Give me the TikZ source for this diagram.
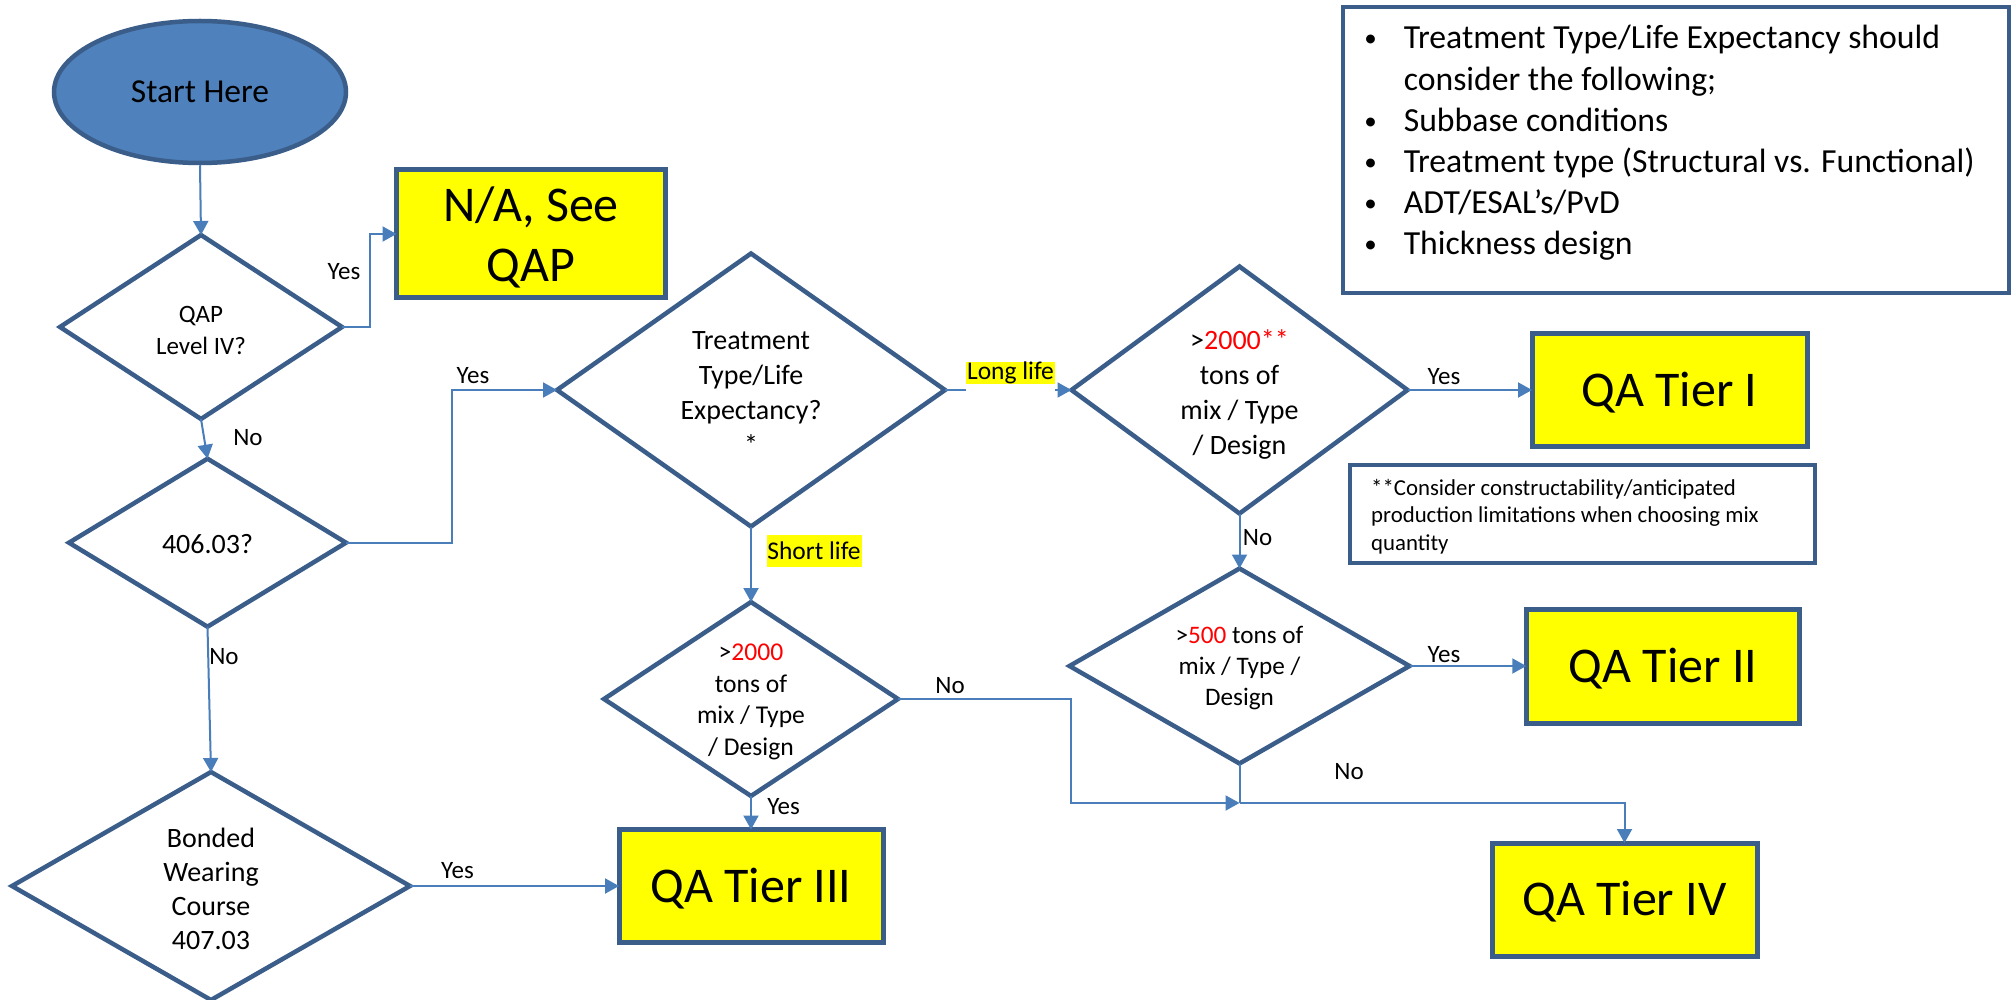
\documentclass[tikz,border=0pt]{standalone}
\usepackage{fontspec}
\setmainfont{Carlito}
\usetikzlibrary{shapes.geometric,arrows.meta}
\definecolor{shapeblue}{RGB}{58,93,138}
\definecolor{connblue}{RGB}{74,126,187}
\definecolor{startfill}{RGB}{79,129,189}
\definecolor{hiyellow}{RGB}{255,255,0}
\begin{document}
\begin{tikzpicture}[x=1pt,y=-1pt,
  dia/.style={diamond, draw=shapeblue, line width=4.5pt, fill=white, inner sep=0pt, outer sep=0pt},
  tier/.style={rectangle, draw=shapeblue, line width=5pt, fill=hiyellow, inner sep=0pt, outer sep=0pt},
  notebox/.style={rectangle, draw=shapeblue, line width=4pt, fill=white, inner sep=0pt},
  conn/.style={draw=connblue, line width=2pt},
  arr/.style={conn, -{Triangle[length=14pt,width=15pt]}},
  dtext/.style={align=center, font=\fontsize{28}{35}\selectfont, inner sep=0pt},
  bigtext/.style={align=center, font=\fontsize{50}{60}\selectfont, inner sep=0pt},
  lab/.style={font=\fontsize{25}{30}\selectfont, inner sep=0pt},
  hl/.style={fill=hiyellow, inner sep=0pt, font=\fontsize{25.5}{30}\selectfont},
  bul/.style={font=\fontsize{25}{41}\selectfont, inner sep=0pt, anchor=base},
  bultext/.style={font=\fontsize{33.7}{41}\selectfont, inner sep=0pt, anchor=base west},
  foot/.style={font=\fontsize{22.8}{27.5}\selectfont, inner sep=0pt, anchor=base west},
]
\fill[white] (0,0) rectangle (2013,1000);
\useasboundingbox (0,0) rectangle (2013,1000);

% ---- shapes ----
\node[ellipse, draw=shapeblue, line width=4.5pt, fill=startfill, minimum width=292pt, minimum height=142pt, inner sep=0pt, font=\fontsize{33.5}{40}\selectfont] (start) at (200,92) {Start Here};

\node[dia, minimum width=282pt, minimum height=184pt] (qap) at (201,327) {};
\node[dtext, font=\fontsize{25}{32}\selectfont] (qapt) at (201,330) {QAP\\Level IV?};

\node[tier, minimum width=269pt, minimum height=128pt] (na) at (531,234) {};
\node[bigtext] (nat) at (531,237) {N/A, See\\QAP};

\node[dia, minimum width=277pt, minimum height=168pt] (d406) at (207.5,542.7) {};
\node[dtext] (d406t) at (207.5,544) {406.03?};

\node[dia, minimum width=398pt, minimum height=228pt] (bond) at (211,886) {};
\node[dtext, font=\fontsize{28}{34.2}\selectfont] (bondt) at (211,889) {Bonded\\Wearing\\Course\\407.03};

\node[dia, minimum width=388pt, minimum height=273pt] (treat) at (751,390) {};
\node[dtext] (treatt) at (751,393) {Treatment\\Type/Life\\Expectancy?\\*};

\node[dia, minimum width=294pt, minimum height=194pt] (dB) at (751,699) {};
\node[dtext, font=\fontsize{25.6}{31.5}\selectfont] (dBt) at (751,702) {>\textcolor{red}{2000}\\tons of\\mix / Type\\/ Design};

\node[tier, minimum width=264pt, minimum height=113pt] (t3) at (751,886) {};
\node[bigtext] (t3t) at (751,889) {QA Tier III};

\node[dia, minimum width=336pt, minimum height=247pt] (dA) at (1239.5,390) {};
\node[dtext] (dAt) at (1239.5,394) {>\textcolor{red}{2000**}\\tons of\\mix / Type\\/ Design};

\node[tier, minimum width=275pt, minimum height=113pt] (t1) at (1669.5,390) {};
\node[bigtext] (t1t) at (1669.5,393) {QA Tier I};

\node[dia, minimum width=340pt, minimum height=195pt] (dC) at (1239.5,666) {};
\node[dtext, font=\fontsize{25.2}{31}\selectfont] (dCt) at (1239.5,668) {>\textcolor{red}{500} tons of\\mix / Type /\\Design};

\node[tier, minimum width=273.5pt, minimum height=114pt] (t2) at (1663,666) {};
\node[bigtext] (t2t) at (1663,669) {QA Tier II};

\node[tier, minimum width=265pt, minimum height=113pt] (t4) at (1624.5,899.5) {};
\node[bigtext] (t4t) at (1624.5,902) {QA Tier IV};

% ---- note boxes ----
\node[notebox, minimum width=666pt, minimum height=286pt] (bulbox) at (1676,150) {};
\node[bul] (b1) at (1370.5,47) {\textbullet};
\node[bultext] (l1) at (1403.6,49) {Treatment Type/Life Expectancy should};
\node[bultext] (l2) at (1403.6,90.2) {consider the following;};
\node[bul] (b3) at (1370.5,129.4) {\textbullet};
\node[bultext] (l3) at (1403.6,131.4) {Subbase conditions};
\node[bul] (b4) at (1370.5,170.6) {\textbullet};
\node[bultext] (l4) at (1403.6,172.6) {Treatment type (Structural vs. Functional)};
\node[bul] (b5) at (1370.5,211.8) {\textbullet};
\node[bultext] (l5) at (1403.6,213.8) {ADT/ESAL’s/PvD};
\node[bul] (b6) at (1370.5,253) {\textbullet};
\node[bultext] (l6) at (1403.6,255) {Thickness design};

\node[notebox, minimum width=465pt, minimum height=98pt] (footbox) at (1582.5,514) {};
\node[foot] (f1) at (1371,495.5) {**Consider constructability/anticipated};
\node[foot] (f2) at (1371,522.5) {production limitations when choosing mix};
\node[foot] (f3) at (1371,550) {quantity};

% ---- connectors ----
\draw[arr] (start.south) -- (qap.north);
\draw[arr] (qap.east) -- ++(28,0) |- (na.west);
\draw[arr] (qap.south) -- (d406.north);
\draw[arr] (d406.east) -- ++(105.5,0) |- (treat.west);
\draw[arr] (d406.south) -- (bond.north);
\draw[arr] (bond.east) -- (t3.west);
\draw[arr] (treat.east) -- (dA.west);
\draw[arr] (treat.south) -- (dB.north);
\draw[arr] (dB.south) -- (t3.north);
\draw[arr] (dA.east) -- (t1.west);
\draw[arr] (dA.south) -- (dC.north);
\draw[arr] (dC.east) -- (t2.west);
\coordinate (jn) at (1239.5,803);
\coordinate (bend) at (1071,803);
\draw[conn] (dC.south) -- (jn);
\draw[arr] (dB.east) -| (bend) -- (jn);
\draw[arr] (jn) -| (t4.north);

% ---- labels ----
\node[fill=white, inner sep=0pt, minimum width=89pt, minimum height=34pt] (llbg) at (1010.5,377) {};
\node[hl, minimum width=89pt, minimum height=22.6pt] (ll) at (1010.5,373) {Long life};
\node[hl, minimum width=95pt, minimum height=31.7pt] (sl) at (814,551) {Short life};

\node[lab] (y1) at (344,272) {Yes};
\node[lab] (n1) at (248,438) {No};
\node[lab] (y2) at (473,376) {Yes};
\node[lab] (n2) at (224,657) {No};
\node[lab] (y3) at (457.5,871) {Yes};
\node[lab] (y4) at (783.6,806.7) {Yes};
\node[lab] (n3) at (950,686) {No};
\node[lab] (y5) at (1444,377) {Yes};
\node[lab] (n4) at (1257.5,538) {No};
\node[lab] (y6) at (1444,655) {Yes};
\node[lab] (n5) at (1349,772) {No};
\end{tikzpicture}
\end{document}
